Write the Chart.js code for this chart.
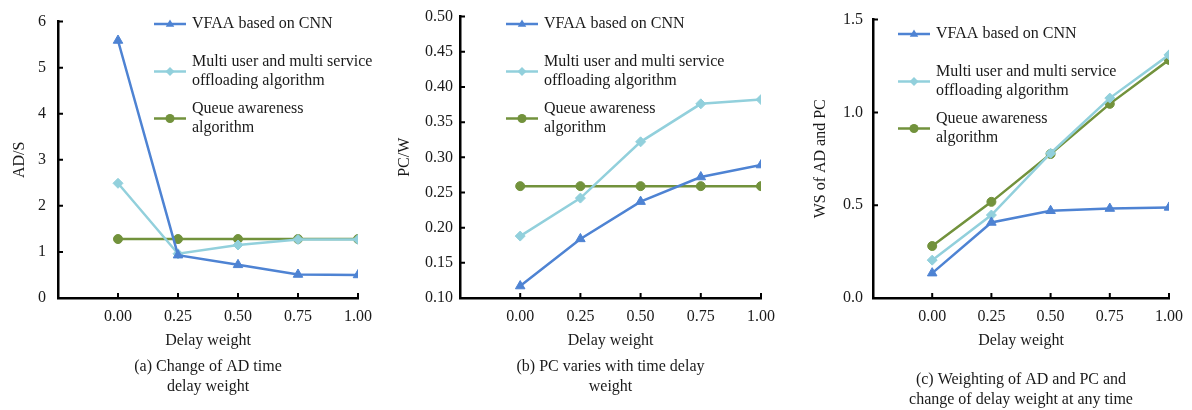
<!DOCTYPE html>
<html>
<head>
<meta charset="utf-8">
<script src="https://cdn.jsdelivr.net/npm/chart.js@4.4.1/dist/chart.umd.min.js"></script>
<style>
  body { margin: 0; background: #fff; width: 1192px; height: 410px; position: relative; overflow: hidden; }
  .panel { position: absolute; top: 0; }
</style>
</head>
<body>
<div class="panel" style="left:0px"><canvas id="chartA" width="390" height="410"></canvas></div>
<div class="panel" style="left:390px"><canvas id="chartB" width="400" height="410"></canvas></div>
<div class="panel" style="left:790px"><canvas id="chartC" width="402" height="410"></canvas></div>
<script>
// data
const delayWeights = [0, 0.25, 0.5, 0.75, 1];
const seriesNames = [
  ['VFAA based on CNN'],
  ['Multi user and multi service', 'offloading algorithm'],
  ['Queue awareness', 'algorithm']
];

// (a) AD
const adVfaa  = [5.59, 0.93, 0.72, 0.51, 0.50];
const adMulti = [2.49, 0.96, 1.15, 1.27, 1.27];
const adQueue = [1.28, 1.28, 1.28, 1.28, 1.28];
const adTicks = [0, 1, 2, 3, 4, 5, 6];

// (b) PC
const pcVfaa  = [0.117, 0.184, 0.237, 0.272, 0.289];
const pcMulti = [0.188, 0.242, 0.322, 0.376, 0.382];
const pcQueue = [0.259, 0.259, 0.259, 0.259, 0.259];
const pcTicks = [0.10, 0.15, 0.20, 0.25, 0.30, 0.35, 0.40, 0.45, 0.50];

// (c) weighted sum
const wsVfaa  = [0.134, 0.407, 0.470, 0.482, 0.488];
const wsMulti = [0.204, 0.447, 0.780, 1.077, 1.310];
const wsQueue = [0.280, 0.518, 0.776, 1.046, 1.283];
const wsTicks = [0.0, 0.5, 1.0, 1.5];

const colors = ['#4e83d3', '#92d0dc', '#72923c'];
const pointStyles = ['triangle', 'rectRot', 'circle'];
const pointSizes = [5.5, 5, 4.5];
const serif = "'Liberation Serif', 'Times New Roman', serif";
const textColor = '#1a1a1a';

function makeDatasets(seriesList) {
  return seriesList.map((vals, i) => ({
    label: seriesNames[i].join(' '),
    data: vals.map((v, j) => ({ x: delayWeights[j], y: v })),
    borderColor: colors[i],
    backgroundColor: colors[i],
    borderWidth: 2.5,
    pointStyle: pointStyles[i],
    pointRadius: pointSizes[i],
    pointBorderWidth: 1,
    tension: 0
  }));
}

// short tick marks pointing into the plot
const inwardTicks = {
  id: 'inwardTicks',
  afterDatasetsDraw(chart) {
    const ctx = chart.ctx;
    const { x, y } = chart.scales;
    const area = chart.chartArea;
    ctx.save();
    ctx.strokeStyle = '#000';
    ctx.lineWidth = 2;
    ctx.beginPath();
    x.ticks.forEach(t => {
      if (t.value < 0) return;
      const px = x.getPixelForValue(t.value);
      ctx.moveTo(px, area.bottom);
      ctx.lineTo(px, area.bottom - 5);
    });
    y.ticks.forEach(t => {
      const py = y.getPixelForValue(t.value);
      ctx.moveTo(area.left, py);
      ctx.lineTo(area.left + 5, py);
    });
    ctx.stroke();
    ctx.restore();
  }
};

function drawMarker(ctx, style, cx, cy, r) {
  ctx.beginPath();
  if (style === 'triangle') {
    ctx.moveTo(cx, cy - r);
    ctx.lineTo(cx + r * 0.95, cy + r * 0.6);
    ctx.lineTo(cx - r * 0.95, cy + r * 0.6);
  } else if (style === 'rectRot') {
    ctx.moveTo(cx, cy - r);
    ctx.lineTo(cx + r, cy);
    ctx.lineTo(cx, cy + r);
    ctx.lineTo(cx - r, cy);
  } else {
    ctx.arc(cx, cy, r, 0, Math.PI * 2);
  }
  ctx.closePath();
  ctx.fill();
}

// legend drawn inside the plot, wrapped labels
const innerLegend = {
  id: 'innerLegend',
  afterDraw(chart, args, opts) {
    const ctx = chart.ctx;
    const rows = [0, 38, 85];
    const lh = 19;
    ctx.save();
    ctx.font = '16px ' + serif;
    ctx.textBaseline = 'middle';
    ctx.textAlign = 'left';
    chart.data.datasets.forEach((ds, i) => {
      const lines = seriesNames[i];
      const top = opts.y + rows[i];
      const my = top + (lines.length - 1) * lh / 2;
      ctx.strokeStyle = colors[i];
      ctx.fillStyle = colors[i];
      ctx.lineWidth = 2.5;
      ctx.beginPath();
      ctx.moveTo(opts.x, my);
      ctx.lineTo(opts.x + 32, my);
      ctx.stroke();
      drawMarker(ctx, pointStyles[i], opts.x + 16, my, 4.5);
      ctx.fillStyle = textColor;
      lines.forEach((ln, k) => ctx.fillText(ln, opts.x + 38, top + k * lh));
    });
    ctx.restore();
  }
};

// caption under the x axis title
const caption = {
  id: 'caption',
  afterDraw(chart, args, opts) {
    const ctx = chart.ctx;
    const area = chart.chartArea;
    const cx = (area.left + area.right) / 2;
    ctx.save();
    ctx.font = '16px ' + serif;
    ctx.fillStyle = textColor;
    ctx.textAlign = 'center';
    ctx.textBaseline = 'middle';
    opts.lines.forEach((ln, k) => ctx.fillText(ln, cx, opts.y + k * 20));
    ctx.restore();
  }
};

function makeChart(id, cfg) {
  const tickFont = { family: serif, size: 16 };
  new Chart(document.getElementById(id), {
    type: 'line',
    data: { datasets: makeDatasets(cfg.series) },
    plugins: [inwardTicks, innerLegend, caption],
    options: {
      responsive: false,
      animation: false,
      layout: { padding: { top: 14, right: cfg.padRight, left: 0, bottom: 0 } },
      plugins: {
        legend: { display: false },
        tooltip: { enabled: false },
        innerLegend: cfg.legend,
        caption: { lines: cfg.caption, y: cfg.captionY }
      },
      scales: {
        x: {
          type: 'linear',
          min: -0.25,
          max: 1,
          afterFit: s => { s.height = 112; },
          afterBuildTicks: s => { s.ticks = [-0.25].concat(delayWeights).map(v => ({ value: v })); },
          grid: { display: false, drawTicks: false },
          border: { display: true, color: '#000', width: 2.5 },
          ticks: {
            color: textColor, font: tickFont, padding: 9, maxRotation: 0, autoSkip: false,
            callback: v => v < 0 ? '' : v.toFixed(2)
          },
          title: {
            display: true, text: 'Delay weight', color: textColor,
            font: { family: serif, size: 16 }, padding: { top: 0, bottom: 60 }
          }
        },
        y: {
          min: cfg.yTicks[0],
          max: cfg.yTicks[cfg.yTicks.length - 1],
          afterFit: s => { s.width = cfg.yWidth; },
          afterBuildTicks: s => { s.ticks = cfg.yTicks.map(v => ({ value: v })); },
          grid: { display: false, drawTicks: false },
          border: { display: true, color: '#000', width: 2.5 },
          ticks: {
            color: textColor, font: tickFont, padding: cfg.yTickPad,
            callback: v => v.toFixed(cfg.yDecimals)
          },
          title: {
            display: true, text: cfg.yTitle, color: textColor,
            font: { family: serif, size: 16 }, padding: { top: cfg.yTitlePad, bottom: 0 }
          }
        }
      }
    }
  });
}

makeChart('chartA', {
  series: [adVfaa, adMulti, adQueue],
  yTicks: adTicks, yDecimals: 0, yTitle: 'AD/S',
  yWidth: 58, yTickPad: 12, yTitlePad: 10, padRight: 32,
  legend: { x: 154, y: 24 },
  caption: ['(a) Change of AD time', 'delay weight'], captionY: 367
});

makeChart('chartB', {
  series: [pcVfaa, pcMulti, pcQueue],
  yTicks: pcTicks, yDecimals: 2, yTitle: 'PC/W',
  yWidth: 70, yTickPad: 7, yTitlePad: 5, padRight: 29,
  legend: { x: 116, y: 24 },
  caption: ['(b) PC varies with time delay', 'weight'], captionY: 367
});

makeChart('chartC', {
  series: [wsVfaa, wsMulti, wsQueue],
  yTicks: wsTicks, yDecimals: 1, yTitle: 'WS of AD and PC',
  yWidth: 83, yTickPad: 10, yTitlePad: 21, padRight: 18,
  legend: { x: 108, y: 34 },
  caption: ['(c) Weighting of AD and PC and', 'change of delay weight at any time'], captionY: 380
});
</script>
</body>
</html>
